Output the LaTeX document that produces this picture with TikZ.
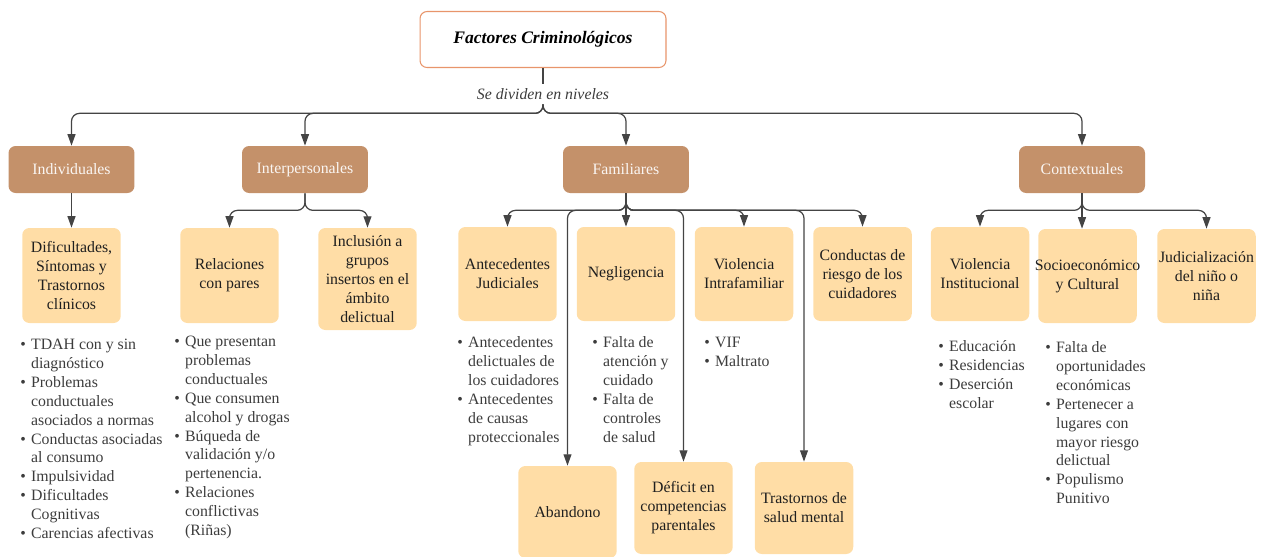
\documentclass[tikz,border=0pt]{standalone}
\usepackage{fontspec}
\setmainfont{Liberation Serif}
\usetikzlibrary{arrows.meta}
\definecolor{cafe}{HTML}{C4916A}
\definecolor{crema}{HTML}{FFDDA6}
\definecolor{naranjo}{HTML}{E8956B}
\definecolor{linea}{HTML}{444444}
\definecolor{gris}{HTML}{3C3C3C}
\newcommand{\lista}[1]{\begin{tabular}{@{}l@{\hspace{3pt}}l@{}}#1\end{tabular}}

\begin{document}
\begin{tikzpicture}[x=0.02cm,y=-0.02cm,
    titulo/.style={draw=naranjo,line width=0.6pt,fill=white,rounded corners=4pt,minimum width=4.92cm,minimum height=1.12cm,font=\fontsize{10}{12}\selectfont\bfseries\itshape},
    nivel/.style={fill=cafe,text=white!92!cafe,rounded corners=4pt,minimum width=2.52cm,minimum height=0.94cm,font=\fontsize{9}{10.8}\selectfont},
    caja/.style={fill=crema,rounded corners=4pt,minimum width=1.97cm,minimum height=1.88cm,align=center,inner sep=1pt,text=black!88,font=\fontsize{9}{10.8}\selectfont},
    lista/.style={anchor=north west,inner sep=0pt,text=gris,font=\fontsize{9}{10.8}\selectfont},
    flecha/.style={draw=linea,line width=0.7pt,rounded corners=4.5pt,-{Triangle[length=6.5pt,width=4.5pt]}}]
    \useasboundingbox (0,0) rectangle (1271,556);

    \node[titulo] (T) at (543,39.5) {Factores Criminológicos};
    \node[inner sep=0pt,minimum height=0.4cm,text=gris,font=\fontsize{9}{10.8}\selectfont\itshape] (L) at (543,94) {Se dividen en niveles};
    \draw[linea,line width=0.7pt] (T.south) -- (L.north);

    \node[nivel] (ind) at (71.5,169.5) {Individuales};
    \node[nivel] (inter) at (305,169.5) {Interpersonales};
    \node[nivel] (fam) at (626,169.5) {Familiares};
    \node[nivel] (ctx) at (1082,169.5) {Contextuales};
    \draw[flecha] (L.south) -- ++(0,9) -| (ind.north);
    \draw[flecha] (L.south) -- ++(0,9) -| (inter.north);
    \draw[flecha] (L.south) -- ++(0,9) -| (fam.north);
    \draw[flecha] (L.south) -- ++(0,9) -| (ctx.north);

    \node[caja,minimum height=1.9cm] (dif) at (71.5,275.5) {Dificultades,\\Síntomas y\\Trastornos\\clínicos};
    \draw[flecha] (ind.south) -- (dif.north);

    \node[caja,minimum height=1.9cm] (rel) at (229.5,275.5) {Relaciones\\con pares};
    \node[caja,minimum height=2.04cm] (inc) at (367.5,279) {Inclusión a\\grupos\\insertos en el\\ámbito\\delictual};
    \draw[flecha] (inter.south) -- ++(0,17) -| (rel.north);
    \draw[flecha] (inter.south) -- ++(0,17) -| (inc.north);

    \node[caja] (ant) at (507.5,274) {Antecedentes\\Judiciales};
    \node[caja] (neg) at (626,274) {Negligencia};
    \node[caja] (vif) at (744,274) {Violencia\\Intrafamiliar};
    \node[caja] (con) at (862.5,274) {Conductas de\\riesgo de los\\cuidadores};
    \node[caja,minimum height=1.84cm] (aba) at (567.5,512) {Abandono};
    \node[caja,minimum height=1.84cm] (def) at (683.5,508) {Déficit en\\competencias\\parentales};
    \node[caja,minimum height=1.84cm] (tra) at (804,508) {Trastornos de\\salud mental};
    \draw[flecha] (fam.south) -- ++(0,17) -| (ant.north);
    \draw[flecha] (fam.south) -- (neg.north);
    \draw[flecha] (fam.south) -- ++(0,17) -| (vif.north);
    \draw[flecha] (fam.south) -- ++(0,17) -| (con.north);
    \draw[flecha] (fam.south) -- ++(0,17) -| (aba.north);
    \draw[flecha] (fam.south) -- ++(0,17) -| (def.north);
    \draw[flecha] (fam.south) -- ++(0,17) -| (tra.north);

    \node[caja] (vin) at (980,274) {Violencia\\Institucional};
    \node[caja] (soc) at (1087.5,276) {\makebox[1.9cm]{Socioeconómico}\\y Cultural};
    \node[caja] (jud) at (1206.5,276) {Judicialización\\del niño o\\niña};
    \draw[flecha] (ctx.south) -- ++(0,17) -| (vin.north);
    \draw[flecha] (ctx.south) -- (ctx.south |- soc.north);
    \draw[flecha] (ctx.south) -- ++(0,17) -| (jud.north);

    \node[lista] (l1) at (20,335.5) {\lista{%
      \textbullet & TDAH con y sin\\ & diagnóstico\\
      \textbullet & Problemas\\ & conductuales\\ & asociados a normas\\
      \textbullet & Conductas asociadas\\ & al consumo\\
      \textbullet & Impulsividad\\
      \textbullet & Dificultades\\ & Cognitivas\\
      \textbullet & Carencias afectivas}};
    \node[lista] (l2) at (174,332.5) {\lista{%
      \textbullet & Que presentan\\ & problemas\\ & conductuales\\
      \textbullet & Que consumen\\ & alcohol y drogas\\
      \textbullet & Búqueda de\\ & validación y/o\\ & pertenencia.\\
      \textbullet & Relaciones\\ & conflictivas\\ & (Riñas)}};
    \node[lista] (l3) at (457,333.5) {\lista{%
      \textbullet & Antecedentes\\ & delictuales de\\ & los cuidadores\\
      \textbullet & Antecedentes\\ & de causas\\ & proteccionales}};
    \node[lista] (l4) at (592,333.5) {\lista{%
      \textbullet & Falta de\\ & atención y\\ & cuidado\\
      \textbullet & Falta de\\ & controles\\ & de salud}};
    \node[lista] (l5) at (704,333.5) {\lista{%
      \textbullet & VIF\\
      \textbullet & Maltrato}};
    \node[lista] (l6) at (938,337.5) {\lista{%
      \textbullet & Educación\\
      \textbullet & Residencias\\
      \textbullet & Deserción\\ & escolar}};
    \node[lista] (l7) at (1045,338.5) {\lista{%
      \textbullet & Falta de\\ & oportunidades\\ & económicas\\
      \textbullet & Pertenecer a\\ & lugares con\\ & mayor riesgo\\ & delictual\\
      \textbullet & Populismo\\ & Punitivo}};

\end{tikzpicture}
\end{document}
